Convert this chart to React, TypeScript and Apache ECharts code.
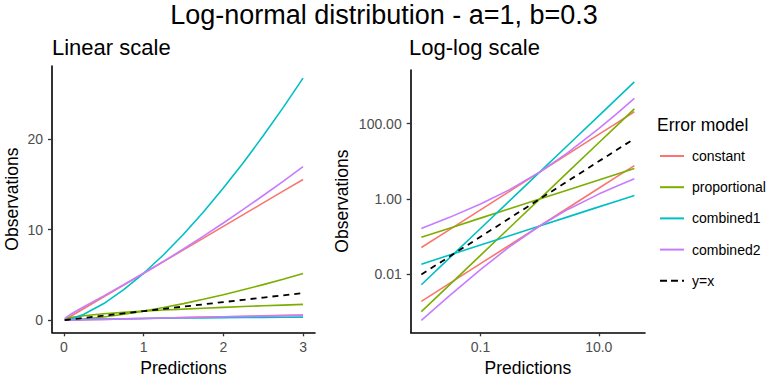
import React, { useEffect, useRef } from "react";
import * as echarts from "echarts";

// ---- Data ----
const modelNames = ["constant", "proportional", "combined1", "combined2"];
const modelColors = ["#F8766D", "#7CAE00", "#00BFC4", "#C77CFF"];
const identityName = "y=x";

// Linear panel
const linX = [0.01, 0.05, 0.1, 0.25, 0.5, 0.75, 1, 1.25, 1.5, 1.75, 2, 2.25, 2.5, 2.75, 3];
const linConstantHi = [0.052, 0.259, 0.518, 1.295, 2.59, 3.886, 5.181, 6.476, 7.772, 9.067, 10.36, 11.66, 12.95, 14.25, 15.54];
const linConstantLo = [0.0019, 0.0097, 0.0193, 0.0483, 0.0965, 0.145, 0.193, 0.241, 0.29, 0.338, 0.386, 0.434, 0.483, 0.531, 0.579];
const linPropA = [0.001, 0.0114, 0.0321, 0.126, 0.355, 0.651, 1, 1.396, 1.832, 2.307, 2.816, 3.357, 3.929, 4.531, 5.159];
const linPropB = [0.097, 0.219, 0.312, 0.496, 0.704, 0.864, 1, 1.12, 1.228, 1.328, 1.421, 1.508, 1.591, 1.669, 1.745];
const linComb1A = [0.0053, 0.059, 0.166, 0.653, 1.84, 3.372, 5.181, 7.23, 9.493, 11.95, 14.59, 17.39, 20.36, 23.47, 26.73];
const linComb1B = [0.0187, 0.0423, 0.0601, 0.0956, 0.136, 0.167, 0.193, 0.216, 0.237, 0.256, 0.274, 0.291, 0.307, 0.322, 0.337];
const linComb2Hi = [0.165, 0.457, 0.738, 1.485, 2.683, 3.91, 5.181, 6.5, 7.866, 9.279, 10.73, 12.23, 13.77, 15.34, 16.96];
const linComb2Lo = [0.0006, 0.0055, 0.0135, 0.0421, 0.0932, 0.144, 0.193, 0.24, 0.286, 0.33, 0.373, 0.414, 0.454, 0.493, 0.531];
const linIdentity = [0.01, 0.05, 0.1, 0.25, 0.5, 0.75, 1, 1.25, 1.5, 1.75, 2, 2.25, 2.5, 2.75, 3];
const linXTicks = [0, 1, 2, 3];
const linYTicks = [0, 10, 20];

// Log-log panel
const logX = [0.01, 0.03, 0.1, 0.3, 1, 3, 10, 20, 40];
const logConstantHi = [0.0518, 0.155, 0.518, 1.554, 5.181, 15.54, 51.81, 103.6, 207.2];
const logConstantLo = [0.00193, 0.00579, 0.0193, 0.0579, 0.193, 0.579, 1.93, 3.86, 7.72];
const logPropA = [0.00103, 0.00532, 0.0321, 0.166, 1, 5.159, 31.15, 87.72, 247.0];
const logPropB = [0.0971, 0.169, 0.312, 0.543, 1, 1.745, 3.21, 4.56, 6.48];
const logComb1A = [0.00534, 0.0275, 0.166, 0.858, 5.181, 26.73, 161.4, 454.5, 1280];
const logComb1B = [0.0187, 0.0327, 0.0601, 0.105, 0.193, 0.337, 0.62, 0.88, 1.25];
const logComb2Hi = [0.165, 0.327, 0.738, 1.725, 5.181, 16.96, 73.84, 182.6, 465.2];
const logComb2Lo = [0.000605, 0.00276, 0.0135, 0.0522, 0.193, 0.531, 1.354, 2.19, 3.439];
const logIdentity = [0.01, 0.03, 0.1, 0.3, 1, 3, 10, 20, 40];
const logXTicks = [0.1, 10];
const logYTicks = [0.01, 1, 100];
const logXTickLabels = ["0.1", "10.0"];
const logYTickLabels = ["0.01", "1.00", "100.00"];

const FONT = "'Liberation Sans', Arial, Helvetica, sans-serif";
const SOLID_ICON = "path://M0 0h24v2H0z";
const DASHED_ICON = "path://M0 0h7v2H0zM11 0h7v2h-7zM22 0h2v2h-2z";

export default function App() {
  const ref = useRef<HTMLDivElement>(null);

  useEffect(() => {
    document.body.style.margin = "0";
    if (!ref.current) return;
    const chart = echarts.init(ref.current, null, { renderer: "svg" });

    const linGroups = [
      [linConstantHi, linConstantLo],
      [linPropA, linPropB],
      [linComb1A, linComb1B],
      [linComb2Hi, linComb2Lo],
    ];
    const logGroups = [
      [logConstantHi, logConstantLo],
      [logPropA, logPropB],
      [logComb1A, logComb1B],
      [logComb2Hi, logComb2Lo],
    ];

    const series: any[] = [];
    const lineBase = (name: string, color: string, idx: number, data: number[][], dashed = false) => ({
      type: "line",
      name,
      xAxisIndex: idx,
      yAxisIndex: idx,
      data,
      symbol: "none",
      showSymbol: false,
      smooth: false,
      clip: false,
      silent: true,
      itemStyle: { color },
      lineStyle: { color, width: dashed ? 1.8 : 1.6, type: dashed ? [6, 5] : "solid" },
      z: dashed ? 5 : 2,
    });

    modelNames.forEach((name, m) => {
      linGroups[m].forEach((arr) => {
        series.push(lineBase(name, modelColors[m], 0, linX.map((x, i) => [x, arr[i]])));
      });
    });
    series.push(lineBase(identityName, "#000000", 0, linX.map((x, i) => [x, linIdentity[i]]), true));

    modelNames.forEach((name, m) => {
      logGroups[m].forEach((arr) => {
        series.push(
          lineBase(name, modelColors[m], 1, logX.map((x, i) => [Math.log10(x), Math.log10(arr[i])]))
        );
      });
    });
    series.push(
      lineBase(identityName, "#000000", 1, logX.map((x, i) => [Math.log10(x), Math.log10(logIdentity[i])]), true)
    );

    const axisCommon = {
      axisLine: { show: true, onZero: false, lineStyle: { color: "#000", width: 1.6 } },
      axisTick: { show: true, length: 4, lineStyle: { color: "#333", width: 1.3 } },
      splitLine: { show: false },
      nameLocation: "middle" as const,
      nameTextStyle: { fontSize: 17.5, color: "#000", fontFamily: FONT },
    };
    const xNameStyle = { fontSize: 17.5, lineHeight: 16, color: "#000", fontFamily: FONT };

    const fmtLogX = (v: number) => {
      const i = logXTicks.findIndex((t) => Math.abs(Math.log10(t) - v) < 1e-6);
      return i >= 0 ? logXTickLabels[i] : "";
    };
    const fmtLogY = (v: number) => {
      const i = logYTicks.findIndex((t) => Math.abs(Math.log10(t) - v) < 1e-6);
      return i >= 0 ? logYTickLabels[i] : "";
    };

    const legendData = [
      ...modelNames.map((n) => ({ name: n, icon: SOLID_ICON })),
      { name: identityName, icon: DASHED_ICON },
    ];

    chart.setOption({
      animation: false,
      textStyle: { fontFamily: FONT },
      title: [
        {
          text: "Log-normal distribution - a=1, b=0.3",
          left: "center",
          top: 1,
          padding: 0,
          textStyle: { fontSize: 27, lineHeight: 28, fontWeight: "normal", color: "#000", fontFamily: FONT },
        },
        {
          text: "Linear scale",
          left: 52,
          top: 36,
          padding: 0,
          textStyle: { fontSize: 22, fontWeight: "normal", color: "#000", fontFamily: FONT },
        },
        {
          text: "Log-log scale",
          left: 409,
          top: 36,
          padding: 0,
          textStyle: { fontSize: 22, fontWeight: "normal", color: "#000", fontFamily: FONT },
        },
        {
          text: "Error model",
          left: 657,
          top: 116,
          padding: 0,
          textStyle: { fontSize: 17.5, fontWeight: "normal", color: "#000", fontFamily: FONT },
        },
      ],
      legend: {
        orient: "vertical",
        left: 660,
        top: 149,
        padding: 0,
        itemWidth: 24,
        itemHeight: 14,
        itemGap: 17.2,
        data: legendData,
        selectedMode: false,
        textStyle: { fontSize: 14, color: "#000", fontFamily: FONT, padding: [0, 0, 0, 3] },
      },
      grid: [
        { left: 52, top: 66, width: 263, height: 266.3, containLabel: false, outerBoundsMode: "none" },
        { left: 410.7, top: 70, width: 234.3, height: 262.3, containLabel: false, outerBoundsMode: "none" },
      ],
      xAxis: [
        {
          ...axisCommon,
          type: "value",
          gridIndex: 0,
          min: -0.15,
          max: 3.15,
          name: "Predictions",
          nameGap: 26,
          nameTextStyle: xNameStyle,
          axisTick: { ...axisCommon.axisTick, customValues: linXTicks },
          axisLabel: { customValues: linXTicks, fontSize: 14, color: "#4D4D4D", margin: 8, fontFamily: FONT },
        },
        {
          ...axisCommon,
          type: "value",
          gridIndex: 1,
          min: -2.18,
          max: 1.782,
          name: "Predictions",
          nameGap: 26,
          nameTextStyle: xNameStyle,
          axisTick: { ...axisCommon.axisTick, customValues: logXTicks.map((t) => Math.log10(t)) },
          axisLabel: {
            customValues: logXTicks.map((t) => Math.log10(t)),
            formatter: fmtLogX,
            fontSize: 14,
            color: "#4D4D4D",
            margin: 8,
            fontFamily: FONT,
          },
        },
      ],
      yAxis: [
        {
          ...axisCommon,
          type: "value",
          gridIndex: 0,
          min: -1.336,
          max: 28.07,
          name: "Observations",
          nameGap: 31,
          axisTick: { ...axisCommon.axisTick, customValues: linYTicks },
          axisLabel: { customValues: linYTicks, fontSize: 14, color: "#4D4D4D", margin: 9, fontFamily: FONT },
        },
        {
          ...axisCommon,
          type: "value",
          gridIndex: 1,
          min: -3.534,
          max: 3.423,
          name: "Observations",
          nameGap: 60,
          axisTick: { ...axisCommon.axisTick, customValues: logYTicks.map((t) => Math.log10(t)) },
          axisLabel: {
            customValues: logYTicks.map((t) => Math.log10(t)),
            formatter: fmtLogY,
            fontSize: 14,
            color: "#4D4D4D",
            margin: 9,
            fontFamily: FONT,
          },
        },
      ],
      series,
    });

    return () => chart.dispose();
  }, []);

  return <div ref={ref} style={{ width: 768, height: 377 }} />;
}
